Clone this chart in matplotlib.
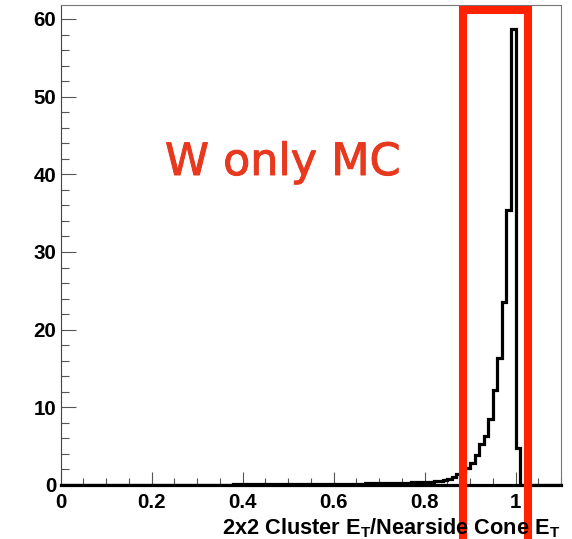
import numpy as np
import matplotlib
matplotlib.use("Agg")
import matplotlib.pyplot as plt
import matplotlib.patheffects as pe
from matplotlib.ticker import MultipleLocator, FixedLocator, FixedFormatter

plt.rcParams['font.family'] = ['Liberation Sans', 'DejaVu Sans']
plt.rcParams['font.weight'] = 'bold'
plt.rcParams['mathtext.fontset'] = 'custom'
plt.rcParams['mathtext.rm'] = 'Liberation Sans:bold'
plt.rcParams['mathtext.it'] = 'Liberation Sans:bold'
plt.rcParams['mathtext.bf'] = 'Liberation Sans:bold'

# Histogram: 110 bins of width 0.01 from 0 to 1.1
bin_lo = 0.0
bin_hi = 1.1
n_bins = 110
counts = [
    # 0.00 - 0.09
    0.04, 0.03, 0.03, 0.03, 0.03, 0.03, 0.03, 0.03, 0.03, 0.03,
    # 0.10 - 0.19
    0.03, 0.03, 0.03, 0.03, 0.03, 0.03, 0.03, 0.03, 0.04, 0.04,
    # 0.20 - 0.29
    0.04, 0.04, 0.04, 0.04, 0.04, 0.04, 0.05, 0.05, 0.05, 0.05,
    # 0.30 - 0.39
    0.05, 0.05, 0.05, 0.06, 0.06, 0.06, 0.06, 0.06, 0.07, 0.07,
    # 0.40 - 0.49
    0.07, 0.07, 0.08, 0.08, 0.08, 0.09, 0.15, 0.09, 0.09, 0.10,
    # 0.50 - 0.59
    0.10, 0.10, 0.11, 0.11, 0.12, 0.12, 0.13, 0.13, 0.14, 0.14,
    # 0.60 - 0.69
    0.15, 0.15, 0.16, 0.17, 0.17, 0.18, 0.19, 0.20, 0.21, 0.22,
    # 0.70 - 0.79
    0.23, 0.24, 0.25, 0.27, 0.28, 0.30, 0.31, 0.33, 0.35, 0.37,
    # 0.80 - 0.89
    0.40, 0.43, 0.47, 0.52, 0.60, 0.80, 1.07, 1.40, 1.70, 2.15,
    # 0.90 - 0.99
    2.80, 3.80, 5.30, 6.30, 8.45, 12.2, 16.3, 23.6, 35.4, 58.7,
    # 1.00 - 1.09
    4.70, 0.0, 0.0, 0.0, 0.0, 0.0, 0.0, 0.0, 0.0, 0.0,
]

x_ticks = [0.0, 0.2, 0.4, 0.6, 0.8, 1.0]
x_tick_labels = ['0', '0.2', '0.4', '0.6', '0.8', '1']
y_ticks = [0, 10, 20, 30, 40, 50, 60]
y_tick_labels = ['0', '10', '20', '30', '40', '50', '60']

x_label = r'2x2 Cluster E$_{\mathrm{T}}$/Nearside Cone E$_{\mathrm{T}}$'
annot_text = 'W only MC'

# highlight box (data coordinates)
box_x0, box_x1 = 0.8850, 1.0275
box_top, box_bottom = 61.1, -12.0

W, H = 572, 539
fig = plt.figure(figsize=(W / 100, H / 100), dpi=100)
ax = fig.add_axes([60.5 / W, (H - 485) / H, (561 - 60.5) / W, (485 - 5) / H])

edges = np.linspace(bin_lo, bin_hi, n_bins + 1)
ax.stairs(counts, edges, color='black', linewidth=2.3, baseline=None, zorder=3)
# bottom line of histogram frame
ax.plot([bin_lo, bin_hi], [0, 0], color='black', linewidth=2.3, zorder=3, clip_on=False)

ax.set_xlim(0, 1.1)
ax.set_ylim(0, 61.8)

ax.xaxis.set_major_locator(FixedLocator(x_ticks))
ax.xaxis.set_major_formatter(FixedFormatter(x_tick_labels))
ax.xaxis.set_minor_locator(MultipleLocator(0.05))
ax.yaxis.set_major_locator(FixedLocator(y_ticks))
ax.yaxis.set_major_formatter(FixedFormatter(y_tick_labels))
ax.yaxis.set_minor_locator(MultipleLocator(2))

tick_col = '#555555'
ax.tick_params(axis='both', which='both', direction='in', color=tick_col, width=0.8,
               top=False, right=False, labelsize=14.8)
ax.tick_params(axis='x', which='major', length=9.6, pad=6)
ax.tick_params(axis='x', which='minor', length=4.8)
ax.tick_params(axis='y', which='major', length=10.8, pad=3)
ax.tick_params(axis='y', which='minor', length=5.5)
for lab in ax.get_xticklabels() + ax.get_yticklabels():
    lab.set_fontweight('bold')

for s in ax.spines.values():
    s.set_color('#777777')
    s.set_linewidth(0.8)
ax.spines['left'].set_color('#444444')

fig.text(560 / W, (H - 534.5) / H, x_label, ha='right', va='baseline',
         fontsize=15.7, fontweight='bold')

ax.text((165 - 60.5) / 500.5, (485 - 175) / 480, annot_text,
        transform=ax.transAxes, ha='left', va='baseline', color='#e8391e',
        fontsize=32, fontweight='normal', family=['DejaVu Sans'],
        path_effects=[pe.withStroke(linewidth=0.7, foreground='#e8391e')])

ax.plot([box_x0, box_x0, box_x1, box_x1], [box_bottom, box_top, box_top, box_bottom],
        color='#ff2200', linewidth=5.8, solid_joinstyle='miter', clip_on=False, zorder=5)

fig.savefig('out.png', dpi=100)
